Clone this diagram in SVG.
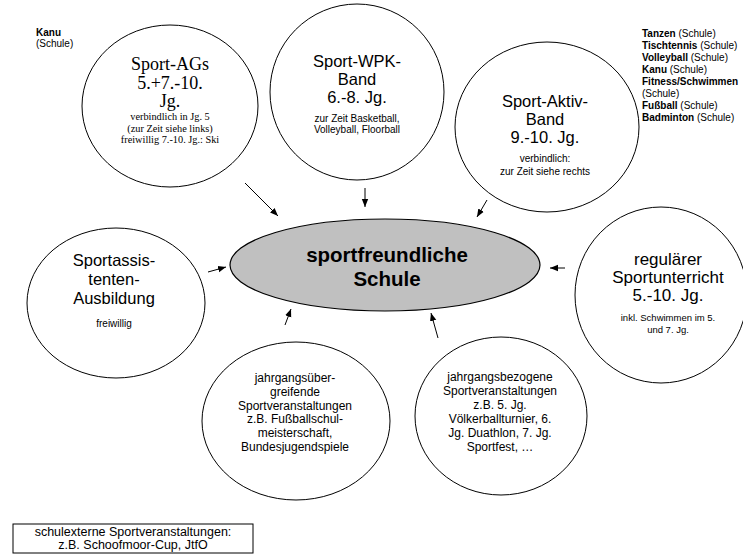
<svg xmlns="http://www.w3.org/2000/svg" width="743" height="555" viewBox="0 0 743 555">
<defs>
<marker id="ah" markerUnits="userSpaceOnUse" markerWidth="8" markerHeight="8" viewBox="0 0 8 8" refX="8" refY="4" orient="auto">
<path d="M0,0.8 L8,4 L0,7.2 Z" fill="#000"/>
</marker>
</defs>
<style>
.c{fill:#fff;stroke:#000;stroke-width:1}
.s{font-family:"Liberation Sans",Arial,sans-serif;fill:#000;text-anchor:middle}
.r{font-family:"Liberation Serif","Times New Roman",serif;fill:#000;text-anchor:middle}
.l{font-family:"Liberation Sans",Arial,sans-serif;fill:#000;font-size:10px}
.big{font-size:16.5px}
.sm{font-size:10px}
.md{font-size:12px}
.a{stroke:#000;stroke-width:1;fill:none;marker-end:url(#ah)}
</style>
<rect width="743" height="555" fill="#fff"/>

<g id="connectors">
<line class="a" x1="245" y1="183" x2="278" y2="216"/>
<line class="a" x1="365" y1="188" x2="365" y2="207"/>
<line class="a" x1="487" y1="200" x2="477" y2="217"/>
<line class="a" x1="208" y1="272" x2="226" y2="267"/>
<line class="a" x1="565" y1="268" x2="550" y2="268"/>
<line class="a" x1="285" y1="325" x2="291" y2="309"/>
<line class="a" x1="438" y1="338" x2="431" y2="313"/>
</g>

<g id="kanu-left">
<text class="l" x="36" y="36"><tspan font-weight="bold">Kanu</tspan></text>
<text class="l" x="36" y="47">(Schule)</text>
</g>

<g id="sport-ags">
<ellipse class="c" cx="170" cy="106" rx="88" ry="81"/>
<text class="r" font-size="18"><tspan x="170" y="70">Sport-AGs</tspan><tspan x="170" y="88.5">5.+7.-10.</tspan><tspan x="170" y="107">Jg.</tspan></text>
<text class="r" font-size="10.3"><tspan x="170" y="120">verbindlich in Jg. 5</tspan><tspan x="170" y="131.5">(zur Zeit siehe links)</tspan><tspan x="170" y="143">freiwillig 7.-10. Jg.: Ski</tspan></text>
</g>

<g id="sport-wpk">
<ellipse class="c" cx="357" cy="92" rx="87" ry="88"/>
<text class="s big"><tspan x="357" y="67">Sport-WPK-</tspan><tspan x="357" y="85">Band</tspan><tspan x="357" y="103">6.-8. Jg.</tspan></text>
<text class="s sm"><tspan x="357" y="122">zur Zeit Basketball,</tspan><tspan x="357" y="133">Volleyball, Floorball</tspan></text>
</g>

<g id="sport-aktiv">
<ellipse class="c" cx="547" cy="127" rx="92" ry="85"/>
<text class="s big"><tspan x="545" y="107">Sport-Aktiv-</tspan><tspan x="545" y="125">Band</tspan><tspan x="545" y="143">9.-10. Jg.</tspan></text>
<text class="s sm"><tspan x="545" y="162">verbindlich:</tspan><tspan x="545" y="175">zur Zeit siehe rechts</tspan></text>
</g>

<g id="list-right">
<text class="l" x="642" y="37"><tspan font-weight="bold">Tanzen</tspan> (Schule)</text>
<text class="l" x="642" y="49"><tspan font-weight="bold">Tischtennis</tspan> (Schule)</text>
<text class="l" x="642" y="61"><tspan font-weight="bold">Volleyball</tspan> (Schule)</text>
<text class="l" x="642" y="73"><tspan font-weight="bold">Kanu</tspan> (Schule)</text>
<text class="l" x="642" y="85"><tspan font-weight="bold">Fitness/Schwimmen</tspan></text>
<text class="l" x="642" y="97">(Schule)</text>
<text class="l" x="642" y="109"><tspan font-weight="bold">Fußball</tspan> (Schule)</text>
<text class="l" x="642" y="121"><tspan font-weight="bold">Badminton</tspan> (Schule)</text>
</g>

<g id="sportassistenten">
<ellipse class="c" cx="116" cy="303" rx="89" ry="75"/>
<text class="s big"><tspan x="114" y="266">Sportassis-</tspan><tspan x="114" y="285">tenten-</tspan><tspan x="114" y="304">Ausbildung</tspan></text>
<text class="s sm"><tspan x="114" y="327">freiwillig</tspan></text>
</g>

<g id="center">
<ellipse cx="385" cy="265" rx="155" ry="46" fill="#c0c0c0" stroke="#000" stroke-width="1.2"/>
<text class="s" font-size="20.5" font-weight="bold"><tspan x="387" y="262">sportfreundliche</tspan><tspan x="387" y="286">Schule</tspan></text>
</g>

<g id="regulaerer">
<ellipse class="c" cx="661" cy="295" rx="86" ry="88"/>
<text class="s" font-size="17"><tspan x="668" y="265">regulärer</tspan><tspan x="668" y="283">Sportunterricht</tspan><tspan x="668" y="301">5.-10. Jg.</tspan></text>
<text class="s" font-size="9.5"><tspan x="668" y="321">inkl. Schwimmen im 5.</tspan><tspan x="668" y="333">und 7. Jg.</tspan></text>
</g>

<g id="jahrgangsuebergreifend">
<ellipse class="c" cx="296" cy="421" rx="94" ry="79"/>
<text class="s md"><tspan x="295" y="382">jahrgangsüber-</tspan><tspan x="295" y="395.8">greifende</tspan><tspan x="295" y="409.6">Sportveranstaltungen</tspan><tspan x="295" y="423.4">z.B. Fußballschul-</tspan><tspan x="295" y="437.2">meisterschaft,</tspan><tspan x="295" y="451">Bundesjugendspiele</tspan></text>
</g>

<g id="jahrgangsbezogen">
<ellipse class="c" cx="501" cy="416" rx="86" ry="79"/>
<text class="s md"><tspan x="500" y="381">jahrgangsbezogene</tspan><tspan x="500" y="395">Sportveranstaltungen</tspan><tspan x="500" y="409">z.B. 5. Jg.</tspan><tspan x="500" y="423">Völkerballturnier, 6.</tspan><tspan x="500" y="437">Jg. Duathlon, 7. Jg.</tspan><tspan x="500" y="451">Sportfest,  …</tspan></text>
</g>

<g id="schulextern">
<rect x="13" y="524" width="240" height="29" fill="#fff" stroke="#000" stroke-width="1"/>
<text class="s" font-size="12.5"><tspan x="133" y="536">schulexterne Sportveranstaltungen:</tspan><tspan x="133" y="549">z.B. Schoofmoor-Cup, JtfO</tspan></text>
</g>
</svg>
